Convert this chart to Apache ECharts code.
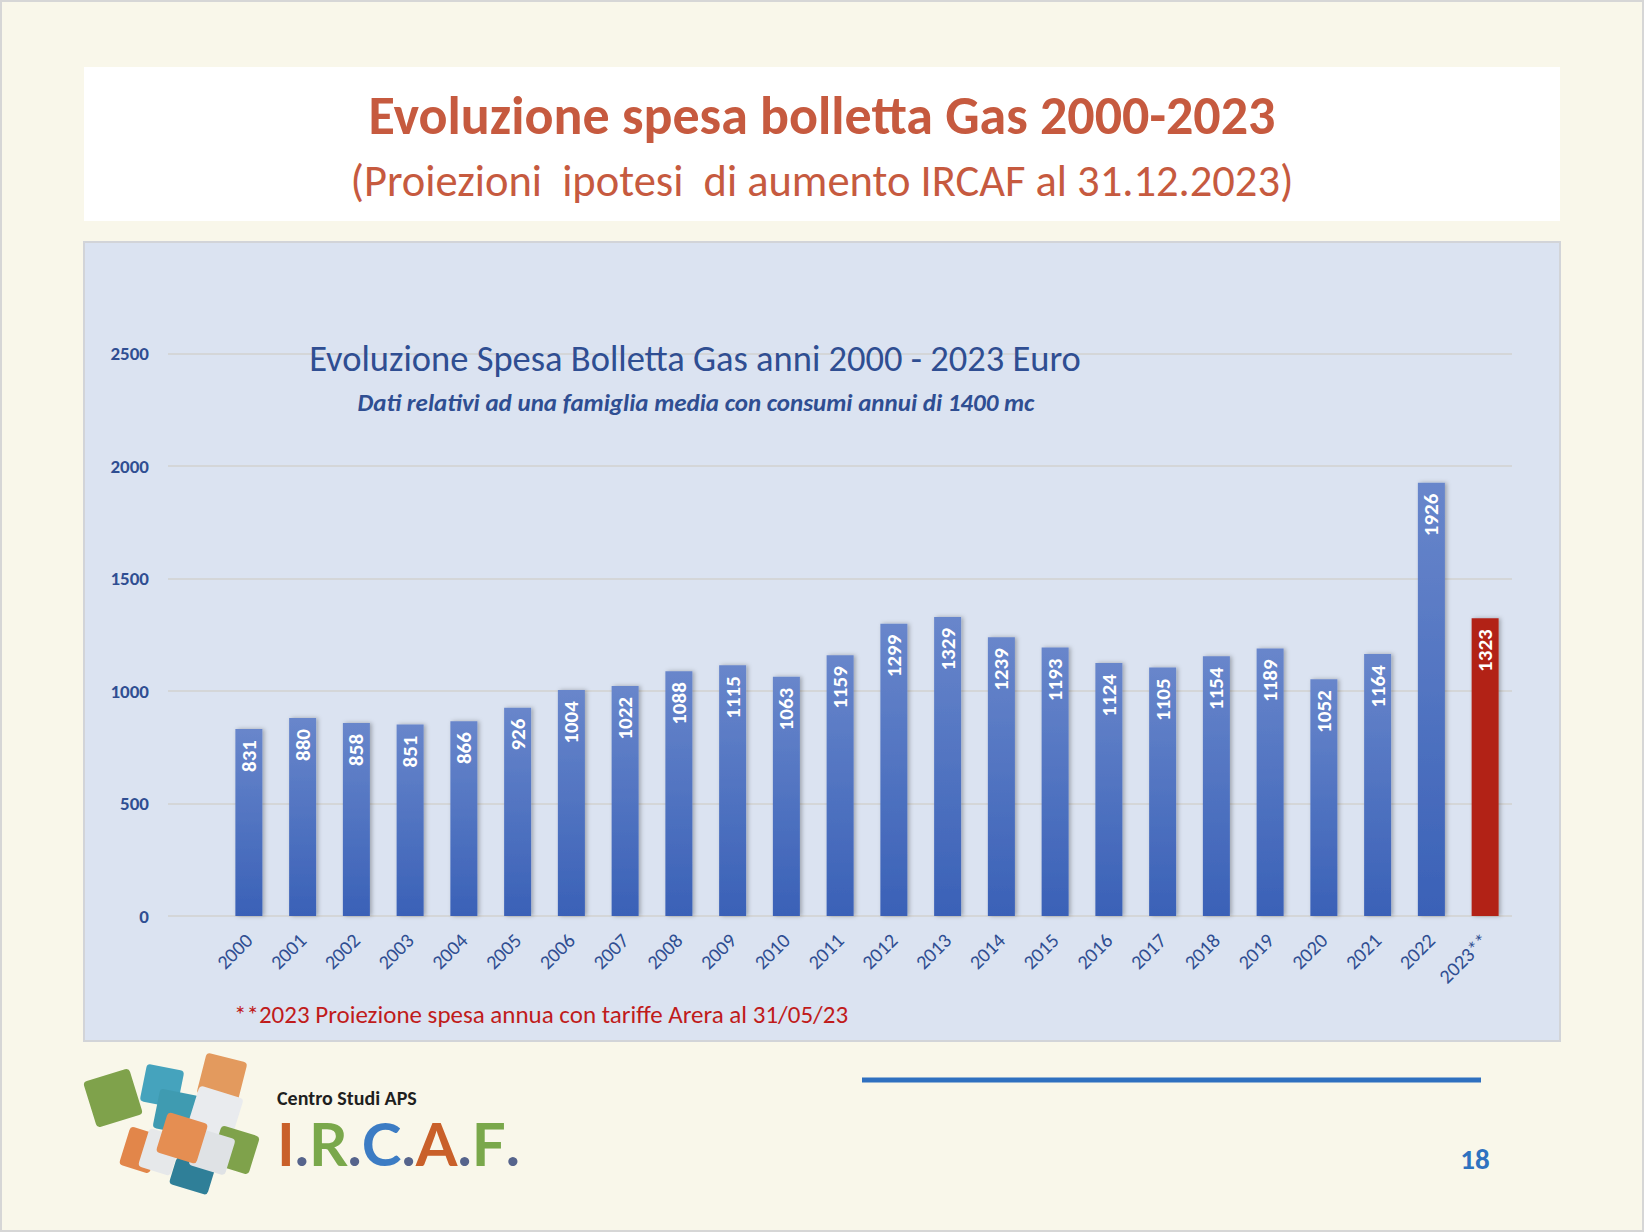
<!DOCTYPE html>
<html>
<head>
<meta charset="utf-8">
<script src="https://cdn.jsdelivr.net/npm/echarts@6/dist/echarts.min.js"></script>
<style>
  html, body { margin: 0; padding: 0; background: #f9f7ea; }
  #main { width: 1644px; height: 1232px; }
</style>
</head>
<body>
<div id="main"></div>
<script>
// anni e spesa annua (euro)
var years = ['2000', '2001', '2002', '2003', '2004', '2005', '2006', '2007', '2008', '2009', '2010', '2011',
  '2012', '2013', '2014', '2015', '2016', '2017', '2018', '2019', '2020', '2021', '2022', '2023**'];
var spesa = [831, 880, 858, 851, 866, 926, 1004, 1022, 1088, 1115, 1063, 1159,
  1299, 1329, 1239, 1193, 1124, 1105, 1154, 1189, 1052, 1164, 1926, 1323];
var projected = ['2023**'];
var yTicks = [0, 500, 1000, 1500, 2000, 2500];

var FONT = 'Carlito, Lato, "Open Sans", sans-serif';
var NAVY = '#2f4e92';
var LOGO_FONT = 'bold 60px Lato, sans-serif';

var blueGrad = new echarts.graphic.LinearGradient(0, 0, 0, 1, [
  { offset: 0, color: '#6886cb' },
  { offset: 1, color: '#3a61b7' }
]);

var barData = spesa.map(function (v, i) {
  if (projected.indexOf(years[i]) >= 0) {
    return { value: v, itemStyle: { color: '#b22318' } };
  }
  return v;
});

var myChart = echarts.init(document.getElementById('main'), null, { renderer: 'svg' });

myChart.setOption({
  backgroundColor: '#f9f7ea',
  animation: false,
  graphic: [
    // cornice pagina
    { type: 'rect', z: -10, shape: { x: 1, y: 1, width: 1642, height: 1230 },
      style: { fill: '#f9f7ea', stroke: '#d6d6d6', lineWidth: 2 } },
    // box titolo
    { type: 'rect', z: -9, shape: { x: 84, y: 67, width: 1476, height: 154 },
      style: { fill: '#ffffff' } },
    // pannello grafico
    { type: 'rect', z: -9, shape: { x: 84, y: 242, width: 1476, height: 799 },
      style: { fill: '#dbe3f1', stroke: '#d2d4d8', lineWidth: 2 } },
    { type: 'text', z: 10, style: {
        text: 'Evoluzione spesa bolletta Gas 2000-2023', x: 822, y: 116,
        textAlign: 'center', textVerticalAlign: 'middle',
        font: 'bold 54px ' + FONT, fill: '#c65a3f' } },
    { type: 'text', z: 10, style: {
        text: '(Proiezioni  ipotesi  di aumento IRCAF al 31.12.2023)', x: 822, y: 181,
        textAlign: 'center', textVerticalAlign: 'middle',
        font: '44.5px ' + FONT, fill: '#c65a3f' } },
    { type: 'text', z: 10, style: {
        text: 'Evoluzione Spesa Bolletta Gas anni 2000 - 2023 Euro', x: 695, y: 358,
        textAlign: 'center', textVerticalAlign: 'middle',
        font: '36.5px ' + FONT, fill: NAVY } },
    { type: 'text', z: 10, style: {
        text: 'Dati relativi ad una famiglia media con consumi annui di 1400 mc', x: 696, y: 402,
        textAlign: 'center', textVerticalAlign: 'middle',
        font: 'italic bold 25px ' + FONT, fill: NAVY } },
    { type: 'text', z: 10, style: {
        text: '**2023 Proiezione spesa annua con tariffe Arera al 31/05/23', x: 234, y: 1014,
        textAlign: 'left', textVerticalAlign: 'middle',
        font: '25px ' + FONT, fill: '#c01b1b' } },
    // linea blu e numero pagina
    { type: 'line', shape: { x1: 862, y1: 1080, x2: 1481, y2: 1080 },
      style: { stroke: '#2f70c0', lineWidth: 5 } },
    { type: 'text', style: {
        text: '18', x: 1475, y: 1159, textAlign: 'center', textVerticalAlign: 'middle',
        font: 'bold 29px ' + FONT, fill: '#2e72c0' } },
    // logo: cubi
    { type: 'group', children: [
      { type: 'rect', x: 113, y: 1098, rotation: 0.3,
        shape: { x: -24, y: -24, width: 48, height: 48, r: 4 }, style: { fill: '#7fa24b' } },
      { type: 'rect', x: 162, y: 1086, rotation: -0.2,
        shape: { x: -19, y: -19, width: 38, height: 38, r: 4 }, style: { fill: '#45a3bd' } },
      { type: 'rect', x: 176, y: 1112, rotation: -0.2,
        shape: { x: -20, y: -20, width: 40, height: 40, r: 4 }, style: { fill: '#3f9bb1' } },
      { type: 'rect', x: 222, y: 1078, rotation: -0.25,
        shape: { x: -21, y: -21, width: 42, height: 42, r: 4 }, style: { fill: '#e39a5e' } },
      { type: 'rect', x: 215, y: 1114, rotation: -0.3,
        shape: { x: -23, y: -23, width: 46, height: 46, r: 4 }, style: { fill: '#e9ebee' } },
      { type: 'rect', x: 235, y: 1150, rotation: -0.3,
        shape: { x: -20, y: -20, width: 40, height: 40, r: 4 }, style: { fill: '#7fa24b' } },
      { type: 'rect', x: 192, y: 1176, rotation: -0.3,
        shape: { x: -20, y: -14, width: 40, height: 28, r: 4 }, style: { fill: '#2f7f98' } },
      { type: 'rect', x: 140, y: 1150, rotation: -0.3,
        shape: { x: -16, y: -20, width: 32, height: 40, r: 4 }, style: { fill: '#e2864a' } },
      { type: 'rect', x: 160, y: 1152, rotation: -0.3,
        shape: { x: -17, y: -20, width: 34, height: 40, r: 4 }, style: { fill: '#e6e8ea' } },
      { type: 'rect', x: 212, y: 1152, rotation: -0.3,
        shape: { x: -19, y: -19, width: 38, height: 38, r: 4 }, style: { fill: '#dfe2e5' } },
      { type: 'rect', x: 182, y: 1138, rotation: -0.3,
        shape: { x: -21, y: -21, width: 42, height: 42, r: 4 }, style: { fill: '#e58e52' } }
    ] },
    { type: 'text', style: {
        text: 'Centro Studi APS', x: 277, y: 1098, textAlign: 'left', textVerticalAlign: 'middle',
        font: 'bold 20px ' + FONT, fill: '#1f1f1f',
        shadowBlur: 4, shadowColor: 'rgba(60,80,20,0.35)', shadowOffsetY: 2 } },
    { type: 'text', style: {
        text: '{o|I}{d|.}{g|R}{d|.}{b|C}{d|.}{o|A}{d|.}{g|F}{d|.}', x: 277, y: 1143,
        textAlign: 'left', textVerticalAlign: 'middle',
        font: LOGO_FONT,
        rich: {
          o: { fill: '#c9602a', font: LOGO_FONT },
          g: { fill: '#7aa84b', font: LOGO_FONT },
          b: { fill: '#3c7cc4', font: LOGO_FONT },
          d: { fill: '#56648c', font: LOGO_FONT }
        } } }
  ],
  grid: [
    { left: 168, right: 132, top: 353.5, bottom: 316 },
    { left: 222, right: 132, top: 353.5, bottom: 316 }
  ],
  xAxis: [
    { type: 'category', gridIndex: 0, data: years, show: false },
    {
      type: 'category', gridIndex: 1, data: years,
      axisLine: { show: false }, axisTick: { show: false },
      axisLabel: { rotate: 45, margin: 21, color: NAVY, fontSize: 20, fontFamily: FONT, interval: 0 }
    }
  ],
  yAxis: [
    {
      type: 'value', gridIndex: 0, min: yTicks[0], max: yTicks[yTicks.length - 1], interval: 500,
      axisLine: { show: false }, axisTick: { show: false },
      axisLabel: {
        margin: 19, color: NAVY, fontSize: 19, fontWeight: 'bold', fontFamily: FONT,
        formatter: function (v) { return String(v); }
      },
      splitLine: { lineStyle: { color: '#d4d6d8', width: 2 } }
    },
    {
      type: 'value', gridIndex: 1, min: yTicks[0], max: yTicks[yTicks.length - 1], interval: 500,
      show: false, splitLine: { show: false }
    }
  ],
  series: [{
    name: 'Spesa',
    type: 'bar',
    xAxisIndex: 1,
    yAxisIndex: 1,
    barWidth: 27,
    data: barData,
    itemStyle: {
      color: blueGrad,
      shadowBlur: 4,
      shadowColor: 'rgba(0,0,0,0.28)',
      shadowOffsetX: 2
    },
    label: {
      show: true,
      position: 'insideTop',
      rotate: 90,
      align: 'right',
      verticalAlign: 'middle',
      distance: 11,
      color: '#ffffff',
      fontSize: 21,
      fontWeight: 'bold',
      fontFamily: FONT
    }
  }]
});
</script>
</body>
</html>
